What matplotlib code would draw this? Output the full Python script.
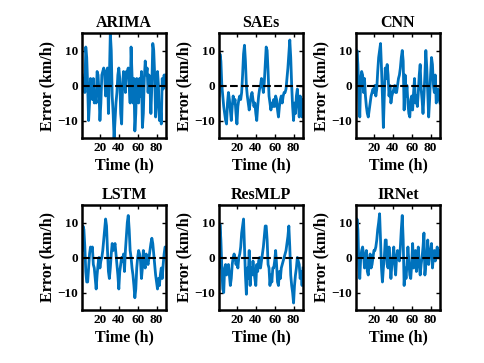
import matplotlib
matplotlib.use("Agg")
import matplotlib.pyplot as plt
import numpy as np

titles = ["ARIMA", "SAEs", "CNN", "LSTM", "ResMLP", "IRNet"]

arima = [3, 0, 2, -2, 11, 8, 0, -10, -5, 2,
         1, -4, 2, -5, -3, -5, 4, 3, -2, -10,
         -5, 3, 4, 5, 3, -3, 4, 5, -8, 2,
         15, 10, -3, -8, -15, -10, -5, -2, 3, 5,
         2, -8, -11, 0, 4, 3, -2, 4, 4, 5,
         0, -5, 11, 3, -5, 2, -13, -8, 2, 0,
         -5, 2, -3, 4, -12, -8, 2, 7, 3, 5,
         -2, 3, 0, -8, 0, 12, 10, 3, -9, -5,
         4, 0, -10, -6, -11, 2, -1, 3, 0, 3]
saes = [-3, 9, 7, 0, -3, -6, -8, -10, -11, -5,
        -2, -4, -7, -10, -6, -3, -5, -4, -8, -11,
        -6, -4, -3, -4, -2, 3, 9, 11.5, 7, 0,
        -3, -5, -7, -5, -3, -2, -4, -6, -5, -8,
        -10, -6, -3, -1, 0, 2, 0, -2, 1, 6,
        11, 10, 4, -3, -5, -7, -5, -6, -4, -6,
        -3, -4, -7, -9, -6, -4, -3, -5, -3, -2,
        -2, -1, 2, 5, 9, 13, 8, 0, -6, -10,
        -5, -8, -3, -1, -5, -9, -3, -6, -9, -4]
cnn = [1, 10, 6, -2, -9, 2, 4, 3, -2, 2,
       -3, -6, -8, -9, -7, -5, -3, -2, -1, -2,
       0, -3, -1, 4, 8, 10, 12, 5, -3, -12,
       -3, 5, 2, 6, 3, -3, 0, -5, -3, -2,
       -1, 0, -2, -2, 0, 2, 3, 5, 8, 10,
       7, -7, 3, -3, 0, -5, -8, -9, -4, -3,
       -7, -2, 2, -5, -3, -6, -2, 3, 6, -1,
       -4, -8, -3, 3, 10, 5, -2, -9, -4, 3,
       8, 6, 0, -2, 3, -5, -3, -1, -4, -5]
lstm = [2, 9, 8, 3, -4, -7, -7, -3, 1, 3,
        2, 3, -2, -3, -6, -9, -5, -2, 0, -3,
        -1, 0, 2, 5, 8, 11, 9, 2, -4, -6,
        -3, 1, 4, 2, 3, 4, 1, -2, -5, -9,
        -4, -2, 0, -1, 1, -4, 2, 6, 10, 12,
        8, 2, 0, -3, -5, -8, -11.5, -9, -3, 0,
        2, 1, -1, -6, -3, 2, -2, -3, 1, -1,
        -2, 0, 2, 4, 5.5, 4, 1, -2, -5, -7,
        -9, -6, -8, -5, -3, -6, -2, 1, 3, 3]
resmlp = [-3, 9.5, 5, -3, -9, -10, -3, -2, -5, -3,
          -2, -5, -8, -6, -2, 0, 1, 0, -2, -1,
          -3, 0, 1, 3, 7, 9, 11, 3, -5, -10.5,
          -3, -6, 2, -8, -3, -5, -1, -4, -6, -8,
          -2, -4, -1, 0, -3, -1, 1, 3, 6, 9,
          9, 5, -2, -3, -8, -5, -7, -3, -3, -1,
          2, -2, -7, -8, -4, -6, -3, -2, -1, 0,
          1, 2, 4, 6, 9, 3, -5, -8, -10, -13,
          -8, -5, -3, 0, -1, -2, -6, -4, -8, -3]
irnet = [0, 11, 8, -2, -6, 0, 2, 3, 1, -3,
         -1, 2, -4, -5, -1, 1, -3, -2, 0, 2,
         2, 3, 5, 8, 10, 12.5, 5, -3, -7, -3,
         0, 5, 5, -2, -3, 3, -1, -6, -2, 0,
         3, -2, -5, 0, 2, 0, -1, 3, 8, 12,
         5, -8, -3, -6, -2, 3, -1, -5, -6, -2,
         4, -3, -1, 2, -4, -1, 3, -2, -5, -2,
         0, 3, 7, -5, -2, 0, 5, -2, 1, 2,
         4, -3, 0, 2, -1, 1, 3, 2, 0, 2]

series = [arima, saes, cnn, lstm, resmlp, irnet]
xticks = [20, 40, 60, 80]
yticks = [-10, 0, 10]

plt.rcParams['font.family'] = ['Liberation Serif', 'DejaVu Serif']
plt.rcParams['font.weight'] = 'bold'

fig = plt.figure(figsize=(4.85, 3.63), dpi=100)
lefts = [82, 219, 356]
tops = [33, 205]
W, H = 84, 105
for i, (t, s) in enumerate(zip(titles, series)):
    r, c = divmod(i, 3)
    ax = fig.add_axes([lefts[c] / 485, 1 - (tops[r] + H) / 363, W / 485, H / 363])
    x = np.arange(1, len(s) + 1)
    ax.plot(x, s, color=(0, 0.447, 0.741), lw=2.0)
    ax.axhline(0, color='black', ls='--', lw=1.5)
    ax.set_xlim(1, 90)
    ax.set_ylim(-15, 15)
    ax.set_xticks(xticks)
    ax.set_yticks(yticks)
    ax.tick_params(direction='in', top=True, right=True, length=3, width=1,
                   labelsize=9.5, pad=3)
    for lab in ax.get_xticklabels() + ax.get_yticklabels():
        lab.set_fontweight('bold')
    for sp in ax.spines.values():
        sp.set_linewidth(1.8)
    ax.set_title(t, fontsize=11.5, fontweight='bold', pad=4)
    ax.set_xlabel('Time (h)', fontsize=11.5, fontweight='bold', labelpad=2)
    ax.set_ylabel('Error (km/h)', fontsize=11.5, fontweight='bold', labelpad=1)

fig.savefig('out.png', dpi=100)
